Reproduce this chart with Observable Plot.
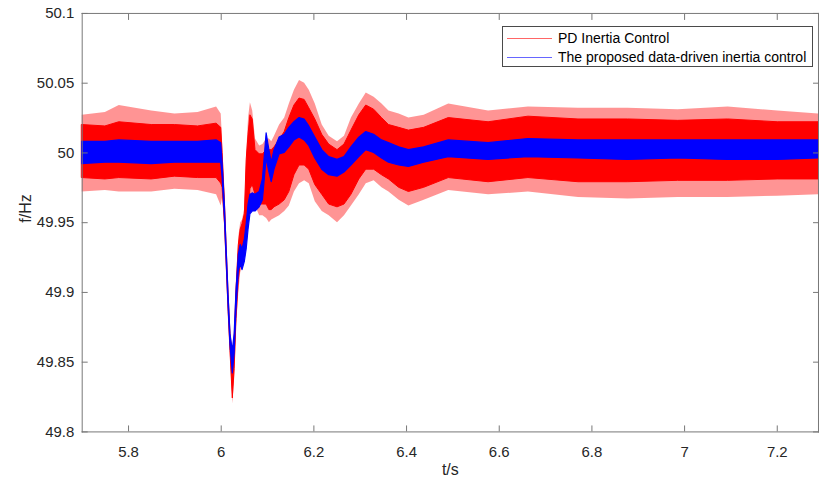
<!DOCTYPE html>
<html><head><meta charset="utf-8">
<script src="https://cdn.jsdelivr.net/npm/d3@7"></script>
<script src="https://cdn.jsdelivr.net/npm/@observablehq/plot@0.6"></script>
<style>
html,body{margin:0;padding:0;background:#fff;overflow:hidden;}
#wrap{position:relative;width:819px;height:487px;overflow:hidden;font-family:"Liberation Sans",Arial,Helvetica,sans-serif;}
#legend{position:absolute;left:502px;top:26px;width:311px;height:41px;border:1px solid #4a4a4a;background:#fff;font-size:14px;color:#000;box-sizing:border-box;}
.row{position:absolute;left:0;height:18px;line-height:18px;display:flex;align-items:center;white-space:nowrap;}
.sw{display:block;width:45px;height:0;margin-left:4px;margin-right:6px;}
</style>
</head><body>
<div id="wrap"></div>
<script>
// time (s)
const t = [5.700,5.750,5.780,5.850,5.900,5.950,5.990,6.000,6.003,6.008,6.012,6.016,6.020,6.025,6.029,6.033,6.038,6.042,6.046,6.051,6.055,6.059,6.063,6.068,6.074,6.083,6.090,6.098,6.104,6.109,6.115,6.126,6.137,6.147,6.158,6.169,6.180,6.190,6.203,6.218,6.233,6.251,6.266,6.281,6.298,6.313,6.330,6.347,6.362,6.384,6.405,6.438,6.491,6.577,6.663,6.771,6.878,6.986,7.094,7.201,7.289];
// data-driven inertia control (blue) band
const blueHi = [50.008,50.008,50.009,50.008,50.008,50.008,50.009,50.007,49.993,49.962,49.929,49.897,49.870,49.858,49.870,49.901,49.927,49.934,49.931,49.938,49.949,49.963,49.970,49.971,49.970,49.972,49.981,50.014,50.002,49.993,50.002,50.011,50.013,50.018,50.022,50.025,50.024,50.019,50.011,50.002,49.997,49.995,49.997,50.004,50.011,50.015,50.013,50.009,50.007,50.004,50.002,50.004,50.009,50.007,50.010,50.009,50.009,50.009,50.009,50.009,50.009];
const blueLo = [49.992,49.993,49.993,49.992,49.993,49.993,49.993,49.993,49.982,49.953,49.921,49.889,49.862,49.842,49.856,49.888,49.915,49.920,49.916,49.922,49.931,49.945,49.956,49.958,49.958,49.961,49.966,49.996,49.986,49.979,49.988,49.999,50.000,50.004,50.009,50.011,50.009,50.005,49.996,49.988,49.984,49.983,49.986,49.991,49.997,50.002,50.000,49.996,49.993,49.991,49.990,49.993,49.997,49.995,49.997,49.996,49.995,49.996,49.995,49.995,49.996];
// PD inertia control (red): dense core band
const redHi = [50.020,50.019,50.022,50.020,50.020,50.019,50.021,50.018,50.000,49.965,49.930,49.898,49.870,49.852,49.866,49.902,49.934,49.945,49.949,49.956,49.995,50.013,50.027,50.024,50.002,49.999,49.999,50.002,50.002,50.002,50.004,50.009,50.015,50.025,50.034,50.039,50.038,50.032,50.024,50.013,50.006,50.002,50.006,50.016,50.027,50.034,50.031,50.025,50.020,50.018,50.016,50.018,50.025,50.022,50.026,50.024,50.024,50.023,50.024,50.022,50.022];
const redLo = [49.982,49.981,49.982,49.981,49.983,49.982,49.982,49.978,49.975,49.950,49.918,49.886,49.858,49.824,49.845,49.881,49.909,49.920,49.925,49.934,49.949,49.956,49.974,49.977,49.970,49.963,49.963,49.963,49.959,49.959,49.961,49.963,49.966,49.972,49.984,49.991,49.991,49.988,49.977,49.970,49.963,49.961,49.963,49.970,49.981,49.988,49.988,49.984,49.981,49.975,49.972,49.975,49.982,49.979,49.982,49.979,49.979,49.980,49.980,49.981,49.981];
// PD inertia control (red): spike extremes
const redMax = [50.027,50.029,50.034,50.030,50.028,50.029,50.033,50.028,50.008,49.970,49.935,49.902,49.874,49.859,49.872,49.908,49.940,49.950,49.952,49.960,50.000,50.025,50.036,50.030,50.010,50.005,50.006,50.010,50.010,50.008,50.012,50.020,50.025,50.035,50.045,50.052,50.050,50.045,50.035,50.020,50.012,50.008,50.012,50.025,50.035,50.043,50.040,50.035,50.030,50.028,50.025,50.027,50.035,50.030,50.033,50.032,50.032,50.031,50.033,50.030,50.028];
const redMin = [49.972,49.973,49.972,49.972,49.974,49.973,49.970,49.962,49.968,49.945,49.913,49.882,49.853,49.820,49.838,49.875,49.900,49.914,49.918,49.928,49.940,49.950,49.965,49.970,49.962,49.955,49.955,49.953,49.950,49.952,49.953,49.955,49.958,49.962,49.972,49.978,49.980,49.978,49.965,49.958,49.955,49.950,49.955,49.962,49.970,49.978,49.980,49.975,49.972,49.966,49.962,49.966,49.973,49.970,49.972,49.968,49.967,49.968,49.968,49.969,49.970];
const xTicks = [5.8,6,6.2,6.4,6.6,6.8,7,7.2];
const yTicks = [49.8,49.85,49.9,49.95,50,50.05,50.1];
const seriesNames = ["PD Inertia Control","The proposed data-driven inertia control"];
const seriesColors = ["#ff0000","#0000ff"];

const rows = t.map((d,i)=>({t:d, blueHi:blueHi[i], blueLo:blueLo[i], redHi:redHi[i], redLo:redLo[i], redMax:redMax[i], redMin:redMin[i]}));
const axisCol = "#777";
const txtCol = "#262626";

const chart = Plot.plot({
  width: 822, height: 487,
  marginLeft: 82, marginRight: 1, marginTop: 13, marginBottom: 54,
  x: {domain: [5.7, 7.289]},
  y: {domain: [49.8, 50.1]},
  style: {fontFamily: "'Liberation Sans', Arial, sans-serif", fontSize: "15px", color: txtCol, background: "#fff"},
  marks: [
    Plot.areaY(rows, {x:"t", y1:"redMin", y2:"redMax", fill:seriesColors[0], fillOpacity:0.42}),
    Plot.areaY(rows, {x:"t", y1:"redLo", y2:"redHi", fill:seriesColors[0], stroke:seriesColors[0], strokeWidth:1}),
    Plot.areaY(rows, {x:"t", y1:"blueLo", y2:"blueHi", fill:seriesColors[1], stroke:seriesColors[1], strokeWidth:1.2}),
    Plot.frame({anchor:"top", stroke:axisCol}),
    Plot.frame({anchor:"left", stroke:axisCol}),
    Plot.frame({anchor:"bottom", stroke:axisCol}),
    Plot.frame({anchor:"right", stroke:axisCol}),
    Plot.axisX({anchor:"bottom", ticks:xTicks, tickSize:-6, tickPadding:21, label:null, stroke:axisCol, fill:txtCol, tickFormat:d=>String(+d.toFixed(1))}),
    Plot.axisX({anchor:"top", ticks:xTicks, tickSize:-6, label:null, stroke:axisCol, tickFormat:()=>""}),
    Plot.axisY({anchor:"left", ticks:yTicks, tickSize:-6, tickPadding:14, label:null, stroke:axisCol, fill:txtCol, tickFormat:d=>String(+d.toFixed(2))}),
    Plot.axisY({anchor:"right", ticks:yTicks, tickSize:-6, label:null, stroke:axisCol, tickFormat:()=>""}),
    Plot.text(["t/s"], {text:d=>d, frameAnchor:"bottom", dy:43, fontSize:16, fill:txtCol}),
    Plot.text(["f/Hz"], {text:d=>d, frameAnchor:"left", dx:-57, rotate:-90, fontSize:16, fill:txtCol})
  ]
});
const wrap = document.getElementById("wrap");
wrap.appendChild(chart);
const leg = document.createElement("div");
leg.id = "legend";
seriesNames.forEach((n,i)=>{
  const r = document.createElement("div");
  r.className = "row";
  r.style.top = (i===0 ? 2 : 21) + "px";
  const sw = document.createElement("span");
  sw.className = "sw";
  sw.style.borderTop = "1px solid " + seriesColors[i];
  sw.style.opacity = "0.6";
  const tx = document.createElement("span");
  tx.textContent = n;
  r.appendChild(sw); r.appendChild(tx);
  leg.appendChild(r);
});
wrap.appendChild(leg);
</script>
</body></html>
